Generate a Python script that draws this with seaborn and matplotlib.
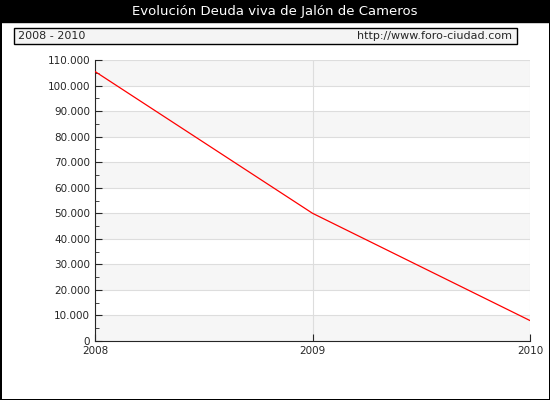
import matplotlib
matplotlib.use("Agg")
import matplotlib.pyplot as plt
import seaborn as sns
import pandas as pd
from matplotlib.ticker import FuncFormatter, MultipleLocator
from matplotlib.patches import Rectangle

years = [2008, 2009, 2010]
deuda = [105500, 50000, 8000]
title = "Evolución Deuda viva de Jalón de Cameros"
sub_left = "2008 - 2010"
sub_right = "http://www.foro-ciudad.com"

sns.set_style("white")
plt.rcParams['font.family'] = ['DejaVu Sans']
fig = plt.figure(figsize=(5.5, 4.0), dpi=100, facecolor='white')
fig.patch.set_edgecolor('black')
fig.patch.set_linewidth(2)
W, H = 550, 400
fig.patches.append(Rectangle((0, 1-22/H), 1, 22/H, transform=fig.transFigure, facecolor='black', edgecolor='black', zorder=-1))
fig.text(0.5, 1-11/H, title, color='white', ha='center', va='center', fontsize=9.5)
fig.patches.append(Rectangle((14/W, 1-44/H), 503/W, 16/H, transform=fig.transFigure, facecolor='#f4f4f4', edgecolor='black', lw=1, zorder=-1))
fig.text(18/W, 1-36/H, sub_left, fontsize=8, va='center')
fig.text(512/W, 1-36/H, sub_right, fontsize=8, va='center', ha='right')

ax = fig.add_axes([95/W, 1-341/H, 435/W, 281/H])
ax.set_facecolor('white')
for i in range(0, 11):
    if i % 2 == 0:
        ax.axhspan(i*10000, (i+1)*10000, color='#f6f6f6', zorder=0, lw=0)
df = pd.DataFrame({"year": years, "deuda": deuda})
sns.lineplot(data=df, x="year", y="deuda", color='red', lw=0.9, ax=ax, zorder=3)
ax.set_xlim(2008, 2010)
ax.set_ylim(0, 110000)
ax.set_xticks(years)
ax.yaxis.set_major_locator(MultipleLocator(10000))
ax.yaxis.set_minor_locator(MultipleLocator(5000))
ax.yaxis.set_major_formatter(FuncFormatter(lambda v, p: f"{int(v):,}".replace(",", ".")))
ax.set_axisbelow(True)
ax.grid(True, axis='both', color='#dddddd', lw=0.8)
ax.set_xlabel(""); ax.set_ylabel("")
for s in ['top', 'right']:
    ax.spines[s].set_visible(False)
ax.tick_params(axis='both', which='both', direction='in', labelsize=7.5, left=True, bottom=True, length=5)
ax.tick_params(axis='y', which='minor', length=3)
fig.savefig("out.png", dpi=100, facecolor='white', edgecolor='black')
